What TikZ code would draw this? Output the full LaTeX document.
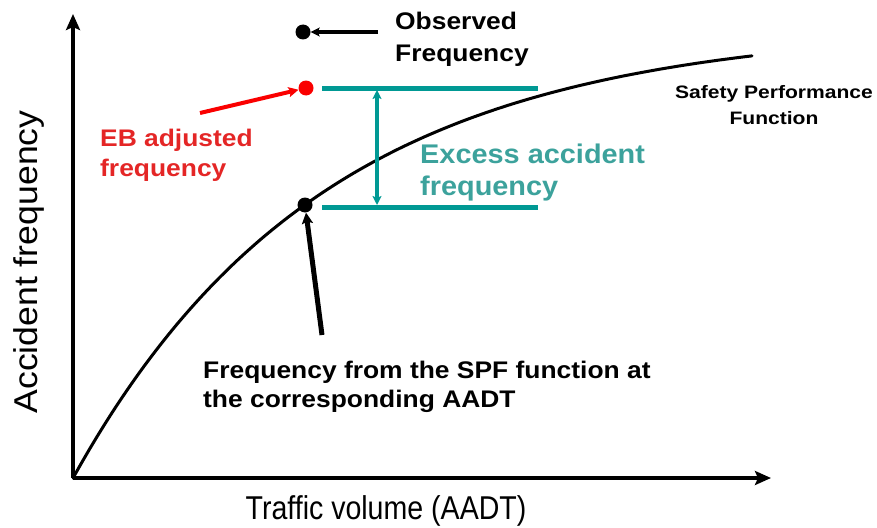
\documentclass[tikz,border=0pt]{standalone}
\usepackage{fontspec}
\setmainfont{Liberation Sans}
\usetikzlibrary{arrows.meta}
\definecolor{ebred}{RGB}{228,38,38}
\definecolor{arrred}{RGB}{250,0,0}
\definecolor{tealline}{RGB}{0,153,148}
\definecolor{tealtext}{RGB}{60,162,156}
\newcommand\hsq[2]{\scalebox{#1}[1]{#2}}
\begin{document}
\begin{tikzpicture}[x=1pt,y=-1pt,
  dot/.style={circle,fill=black,inner sep=0pt,minimum size=15pt},
  reddot/.style={circle,fill=arrred,inner sep=0pt,minimum size=15pt},
  axis/.style={line width=3.5pt,-{Stealth[length=16pt,width=14pt,inset=3pt]}},
  blkarrow/.style={line width=3.2pt,-{Stealth[length=9pt,width=9pt,inset=2pt]}},
  redarrow/.style={arrred,line width=4pt,-{Stealth[length=10pt,width=10pt,inset=2pt]}},
  thickarrow/.style={line width=5pt,-{Stealth[length=11pt,width=11pt,inset=2pt]}},
  tealbar/.style={tealline,line width=5pt},
  tealarrow/.style={tealline,line width=3.8pt,{Stealth[length=9pt,width=9pt,inset=2pt]}-{Stealth[length=9pt,width=9pt,inset=2pt]}},
  btext/.style={inner sep=0pt,anchor=base west,font=\fontsize{24}{30}\selectfont\bfseries},
  ttext/.style={inner sep=0pt,anchor=base west,text=tealtext,font=\fontsize{27}{32}\selectfont\bfseries},
  stext/.style={inner sep=0pt,anchor=base,font=\fontsize{18}{24}\selectfont\bfseries},
  atext/.style={inner sep=0pt,anchor=base,font=\fontsize{33}{38}\selectfont}
]
\useasboundingbox (0,0) rectangle (877,527);
% axes
\coordinate (O) at (73,478);
\coordinate (ytip) at (73,14);
\coordinate (xtip) at (771,478);
\draw[axis] (O) -- (ytip);
\draw[axis] (O) -- (xtip);
% SPF curve
\draw[line width=3pt,line cap=round] plot[domain=0:679,samples=80,smooth]
  ({73+\x},{478-452*(1-exp(-\x/250))});
% teal bars
\coordinate (t1a) at (322,88);
\coordinate (t1b) at (538,88);
\coordinate (t2a) at (322,207);
\coordinate (t2b) at (538,207);
\draw[tealbar] (t1a) -- (t1b);
\draw[tealbar] (t2a) -- (t2b);
\coordinate (va) at (377,90);
\coordinate (vb) at (377,205);
\draw[tealarrow] (va) -- (vb);
% dots
\node[dot] (obs) at (303,32) {};
\node[reddot] (eb) at (306,88) {};
\node[dot] (spf) at (305,205) {};
% pointer arrows
\coordinate (obsT) at (378,32);
\draw[blkarrow] (obsT) -- (obs);
\coordinate (ebT) at (200,113);
\draw[redarrow] (ebT) -- (eb);
\coordinate (spfT) at (322,335);
\draw[thickarrow] (spfT) -- (spf);
% labels
\node[btext] (obs1) at (395,30) {\hsq{1.1}{Observed}};
\node[btext] (obs2) at (395,61) {\hsq{1.1}{Frequency}};
\node[btext,text=ebred] (eb1) at (100,146) {\hsq{1.1}{EB adjusted}};
\node[btext,text=ebred] (eb2) at (100,176) {\hsq{1.1}{frequency}};
\node[btext] (f1) at (203,378) {\hsq{1.1}{Frequency from the SPF function at}};
\node[btext] (f2) at (203,407) {\hsq{1.1}{the corresponding AADT}};
\node[ttext] (ex1) at (420,163) {\hsq{1.07}{Excess accident}};
\node[ttext] (ex2) at (420,195) {\hsq{1.07}{frequency}};
\node[stext] (sp1) at (774,98) {\hsq{1.17}{Safety Performance}};
\node[stext] (sp2) at (774,124) {\hsq{1.17}{Function}};
\node[atext] (xl) at (386,519) {\hsq{0.865}{Traffic volume (AADT)}};
\node[atext,rotate=90] (yl) at (37,262) {\hsq{1.08}{Accident frequency}};
\end{tikzpicture}
\end{document}
